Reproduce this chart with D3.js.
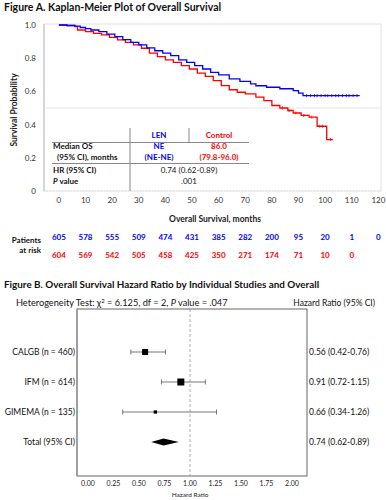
<!DOCTYPE html>
<html><head><meta charset="utf-8">
<script src="https://cdn.jsdelivr.net/npm/d3@7"></script>
<style>body{margin:0;background:#fff}svg{display:block;font-family:Lato,"Open Sans",sans-serif}</style>
</head><body><svg id="c" width="386" height="500"></svg>
<script>
// ---- Data: Figure A ----
const lenTime = [0,3,6,8,10,12,15,18,21,24,27,30,33,36,39,42,45,48,51,54,57,60,64,68,72,74,78,83,88,90,91.7,113];
const lenSurv = [1,0.997,0.993,0.985,0.978,0.97,0.96,0.945,0.93,0.912,0.895,0.88,0.862,0.845,0.83,0.815,0.79,0.775,0.755,0.735,0.715,0.7,0.676,0.66,0.645,0.634,0.625,0.616,0.605,0.59,0.574,0.574];
const ctlTime = [0,3,6,7,10,13,16,19,22,25,28,31,34,37,40,43,46,49,52,55,58,61,64,67,70,74,77,80,83,86,88,91,94,97,100.6,103];
const ctlSurv = [1,0.997,0.99,0.97,0.96,0.95,0.94,0.925,0.91,0.895,0.88,0.86,0.83,0.81,0.79,0.775,0.755,0.735,0.71,0.69,0.665,0.635,0.61,0.595,0.585,0.566,0.545,0.515,0.5,0.485,0.47,0.455,0.445,0.39,0.31,0.31];
const lenCensor = [93,94.5,96,97,98.5,100,101,102.5,104,105,106.5,108,109,110.5,112];
const ctlCensor = [84,86.5,89,92,95,98,99,102];
const riskMonths = [0,10,20,30,40,50,60,70,80,90,100,110,120];
const atRiskLEN = [605,578,555,509,474,431,385,282,200,95,20,1,0];
const atRiskControl = [604,569,542,505,458,425,350,271,174,71,10,0];
const yTicks = [0,0.2,0.4,0.6,0.8,1.0];
const groups = ["LEN","Control"];
const medianOS = ["NE","86.0"];
const medianCI = ["(NE-NE)","(79.8-96.0)"];
const hrText = "0.74 (0.62-0.89)";
const pText = ".001";
// ---- Data: Figure B ----
const studies = ["CALGB (n = 460)","IFM (n = 614)","GIMEMA (n = 135)"];
const studyN = [460,614,135];
const studyHR = [0.56,0.91,0.66];
const studyLo = [0.42,0.72,0.34];
const studyHi = [0.76,1.15,1.26];
const totalLabel = "Total (95% CI)";
const totalHR = 0.74, totalLo = 0.62, totalHi = 0.89;
const hrTicks = [0,0.25,0.5,0.75,1,1.25,1.5,1.75,2];

const BLUE = "#0000ff", RED = "#ff0000";
const svg = d3.select("#c");
svg.append("rect").attr("width",386).attr("height",500).attr("fill","#fff");

// Figure A title
svg.append("text").attr("x",4).attr("y",11).attr("font-size",10.5).attr("font-weight","bold").attr("fill","#111")
  .text("Figure A. Kaplan-Meier Plot of Overall Survival");

const x = d3.scaleLinear().domain([-5.6,121]).range([44,381]);
const y = d3.scaleLinear().domain([0,1]).range([191,25]);

// frame
svg.append("rect").attr("x",44).attr("y",24).attr("width",337).attr("height",167)
  .attr("fill","none").attr("stroke","#e2e2e2").attr("stroke-width",1);
svg.append("line").attr("x1",44).attr("x2",44).attr("y1",24).attr("y2",191).attr("stroke","#bbb");
svg.append("line").attr("x1",44).attr("x2",381).attr("y1",y(0)).attr("y2",y(0)).attr("stroke","#ddd").attr("stroke-dasharray","1,2");
svg.append("line").attr("x1",44).attr("x2",381).attr("y1",y(0.5)).attr("y2",y(0.5)).attr("stroke","#e6e6e6");

// y axis labels
svg.append("g").selectAll("text").data(yTicks).join("text")
  .attr("x",36).attr("y",d=>y(d)+3).attr("text-anchor","end").attr("font-size",8).attr("fill","#333")
  .text(d=>d===0?"0":d3.format(".1f")(d));
svg.append("text").attr("transform",`translate(17,110) rotate(-90)`).attr("text-anchor","middle")
  .attr("font-size",8.5).attr("font-weight","bold").attr("fill","#222").text("Survival Probability");

// x axis labels
svg.append("g").selectAll("text").data(riskMonths).join("text")
  .attr("x",d=>x(d)).attr("y",203).attr("text-anchor","middle").attr("font-size",8).attr("fill","#333").text(d=>d);
svg.append("text").attr("x",215).attr("y",222).attr("text-anchor","middle").attr("font-size",8.5).attr("font-weight","bold").attr("fill","#222")
  .text("Overall Survival, months");

// curves
const line = d3.line().x(d=>x(d[0])).y(d=>y(d[1])).curve(d3.curveStepAfter);
const lenData = lenTime.map((t,i)=>[t,lenSurv[i]]);
const ctlData = ctlTime.map((t,i)=>[t,ctlSurv[i]]);
svg.append("path").attr("d",line(ctlData)).attr("fill","none").attr("stroke",RED).attr("stroke-width",1.3);
svg.append("path").attr("d",line(lenData)).attr("fill","none").attr("stroke",BLUE).attr("stroke-width",1.3);
function survAt(times,surv,t){let s=surv[0];for(let i=0;i<times.length;i++){if(times[i]<=t)s=surv[i];}return s;}
svg.append("g").selectAll("line").data(lenCensor).join("line")
  .attr("x1",d=>x(d)).attr("x2",d=>x(d)).attr("y1",d=>y(survAt(lenTime,lenSurv,d))-1.5).attr("y2",d=>y(survAt(lenTime,lenSurv,d))+1.5)
  .attr("stroke",BLUE).attr("stroke-width",0.8);
svg.append("g").selectAll("line").data(ctlCensor).join("line")
  .attr("x1",d=>x(d)).attr("x2",d=>x(d)).attr("y1",d=>y(survAt(ctlTime,ctlSurv,d))-1.5).attr("y2",d=>y(survAt(ctlTime,ctlSurv,d))+1.5)
  .attr("stroke",RED).attr("stroke-width",0.8);

// table
const tb = svg.append("g").attr("font-size",8).attr("font-weight","bold");
tb.append("line").attr("x1",130).attr("x2",130).attr("y1",128).attr("y2",191).attr("stroke","#888").attr("stroke-width",1);
tb.append("line").attr("x1",189).attr("x2",189).attr("y1",128).attr("y2",143).attr("stroke","#888").attr("stroke-width",1);
tb.append("line").attr("x1",52).attr("x2",249).attr("y1",142.5).attr("y2",142.5).attr("stroke","#888").attr("stroke-width",1);
tb.append("line").attr("x1",52).attr("x2",249).attr("y1",163.5).attr("y2",163.5).attr("stroke","#888").attr("stroke-width",1.2);
const colX = [159,219], colC = [BLUE,RED];
groups.forEach((g,i)=>{
  tb.append("text").attr("x",colX[i]).attr("y",138).attr("text-anchor","middle").attr("fill",colC[i]).text(g);
  tb.append("text").attr("x",colX[i]).attr("y",149).attr("text-anchor","middle").attr("fill",colC[i]).text(medianOS[i]);
  tb.append("text").attr("x",colX[i]).attr("y",160).attr("text-anchor","middle").attr("fill",colC[i]).text(medianCI[i]);
});
tb.append("text").attr("x",53).attr("y",149).attr("fill","#111").text("Median OS");
tb.append("text").attr("x",57).attr("y",160).attr("fill","#111").text("(95% CI), months");
tb.append("text").attr("x",53).attr("y",173).attr("fill","#111").text("HR (95% CI)");
const pv = tb.append("text").attr("x",53).attr("y",184).attr("fill","#111");
pv.append("tspan").attr("font-style","italic").text("P");
pv.append("tspan").text(" value");
tb.append("text").attr("x",189).attr("y",173).attr("text-anchor","middle").attr("font-weight","normal").attr("fill","#111").text(hrText);
tb.append("text").attr("x",189).attr("y",184).attr("text-anchor","middle").attr("font-weight","normal").attr("fill","#111").text(pText);

// patients at risk
svg.append("text").attr("x",41).attr("y",243).attr("text-anchor","end").attr("font-size",8).attr("font-weight","bold").attr("fill","#111").text("Patients");
svg.append("text").attr("x",41).attr("y",253).attr("text-anchor","end").attr("font-size",8).attr("font-weight","bold").attr("fill","#111").text("at risk");
svg.append("g").selectAll("text").data(atRiskLEN).join("text")
  .attr("x",(d,i)=>x(riskMonths[i])).attr("y",240).attr("text-anchor","middle").attr("font-size",8).attr("font-weight","bold").attr("fill",BLUE).text(d=>d);
svg.append("g").selectAll("text").data(atRiskControl).join("text")
  .attr("x",(d,i)=>x(riskMonths[i])).attr("y",258).attr("text-anchor","middle").attr("font-size",8).attr("font-weight","bold").attr("fill",RED).text(d=>d);

// Figure B
svg.append("text").attr("x",4).attr("y",288).attr("font-size",9.9).attr("font-weight","bold").attr("fill","#111")
  .text("Figure B. Overall Survival Hazard Ratio by Individual Studies and Overall");
const het = svg.append("text").attr("x",16).attr("y",306).attr("font-size",9.2).attr("fill","#111");
het.append("tspan").text("Heterogeneity Test: χ");
het.append("tspan").attr("font-size",6).attr("dy",-3).text("2");
het.append("tspan").attr("dy",3).text(" = 6.125, df = 2, ");
het.append("tspan").attr("font-style","italic").text("P");
het.append("tspan").text(" value = .047");
svg.append("text").attr("x",375).attr("y",306).attr("text-anchor","end").attr("font-size",8.5).attr("fill","#111").text("Hazard Ratio (95% CI)");

const hx = d3.scaleLinear().domain([-0.108,2.147]).range([77,307]);
const hy = d3.scaleLinear().domain([0,3]).range([352,442]);
svg.append("rect").attr("x",77).attr("y",309).attr("width",230).attr("height",167).attr("fill","none").attr("stroke","#666").attr("stroke-width",1);
svg.append("line").attr("x1",77).attr("x2",77).attr("y1",309).attr("y2",476).attr("stroke","#999").attr("stroke-width",1.5);
svg.append("line").attr("x1",hx(1)).attr("x2",hx(1)).attr("y1",309).attr("y2",476).attr("stroke","#999").attr("stroke-dasharray","3,2").attr("stroke-width",0.8);

const sz = d3.scaleSqrt().domain([0,d3.max(studyN)]).range([0,7]);
const fg = svg.append("g");
studies.forEach((s,i)=>{
  const yy = hy(i);
  fg.append("line").attr("x1",hx(studyLo[i])).attr("x2",hx(studyHi[i])).attr("y1",yy).attr("y2",yy).attr("stroke","#555").attr("stroke-width",0.8);
  [studyLo[i],studyHi[i]].forEach(v=>fg.append("line").attr("x1",hx(v)).attr("x2",hx(v)).attr("y1",yy-2.5).attr("y2",yy+2.5).attr("stroke","#555").attr("stroke-width",0.8));
  const w = sz(studyN[i]);
  fg.append("rect").attr("x",hx(studyHR[i])-w/2).attr("y",yy-w/2).attr("width",w).attr("height",w).attr("fill","#000");
  fg.append("text").attr("x",75).attr("y",yy+3).attr("text-anchor","end").attr("font-size",8.5).attr("fill","#111").text(s);
  fg.append("text").attr("x",309).attr("y",yy+3).attr("font-size",8.5).attr("fill","#111")
    .text(`${d3.format(".2f")(studyHR[i])} (${d3.format(".2f")(studyLo[i])}-${d3.format(".2f")(studyHi[i])})`);
});
const ty = hy(3);
fg.append("path").attr("d",`M${hx(totalLo)},${ty}L${hx(totalHR)},${ty-3.5}L${hx(totalHi)},${ty}L${hx(totalHR)},${ty+3.5}Z`).attr("fill","#000");
fg.append("text").attr("x",75).attr("y",ty+3).attr("text-anchor","end").attr("font-size",8.5).attr("fill","#111").text(totalLabel);
fg.append("text").attr("x",309).attr("y",ty+3).attr("font-size",8.5).attr("fill","#111")
  .text(`${d3.format(".2f")(totalHR)} (${d3.format(".2f")(totalLo)}-${d3.format(".2f")(totalHi)})`);

svg.append("g").selectAll("text").data(hrTicks).join("text")
  .attr("x",d=>hx(d)).attr("y",486).attr("text-anchor","middle").attr("font-size",7).attr("fill","#222").text(d=>d3.format(".2f")(d));
svg.append("text").attr("x",hx(1)).attr("y",497).attr("text-anchor","middle").attr("font-size",6.5).attr("fill","#222").text("Hazard Ratio");
</script></body></html>
